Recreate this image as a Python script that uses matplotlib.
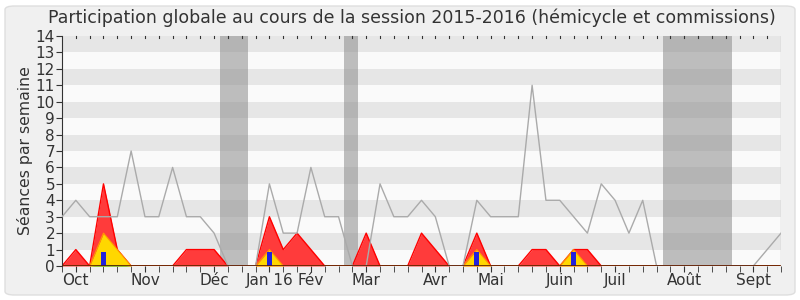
import matplotlib
matplotlib.use('Agg')
import numpy as np
import matplotlib.pyplot as plt
from matplotlib.patches import FancyBboxPatch

# semaines de la session (0 = fin septembre 2015)
weeks = np.arange(53)

# presence mediane des deputes (ligne grise)
median = [3, 4, 3, 3, 3, 7, 3, 3, 6, 3, 3, 2, 0, 0, 0, 5, 2, 2, 6, 3,
          3, 0, 0, 5, 3, 3, 4, 3, 0, 0, 4, 3, 3, 3, 11, 4, 4, 3, 2, 5,
          4, 2, 4, 0, 0, 0, 0, 0, 0, 0, 0, 1, 2]
# presences (rouge)
presences = [0, 1, 0, 5, 1, 0, 0, 0, 0, 1, 1, 1, 0, 0, 0, 3, 1, 2, 1, 0,
             0, 0, 2, 0, 0, 0, 2, 1, 0, 0, 2, 0, 0, 0, 1, 1, 0, 1, 1, 0,
             0, 0, 0, 0, 0, 0, 0, 0, 0, 0, 0, 0, 0]
# interventions longues (jaune)
interventions = [0, 0, 0, 2, 1, 0, 0, 0, 0, 0, 0, 0, 0, 0, 0, 1, 0, 0, 0, 0,
                 0, 0, 0, 0, 0, 0, 0, 0, 0, 0, 1, 0, 0, 0, 0, 0, 0, 1, 0, 0,
                 0, 0, 0, 0, 0, 0, 0, 0, 0, 0, 0, 0, 0]
# interventions courtes (vert)
courtes = [0, 0, 0, 0.1, 0.08, 0, 0, 0, 0, 0, 0, 0, 0, 0, 0, 0, 0, 0, 0, 0,
           0, 0, 0, 0, 0, 0, 0, 0, 0, 0, 0, 0, 0, 0, 0, 0, 0, 0, 0, 0,
           0, 0, 0, 0, 0, 0, 0, 0, 0, 0, 0, 0, 0]
# questions orales (barres bleues)
question_weeks = [3, 15, 30, 37]
question_vals = [0.85, 0.85, 0.85, 0.85]

# vacances parlementaires
vacances = [(11.43, 13.43), (20.43, 21.43), (43.43, 48.43)]

month_pos = [1, 6, 11, 15, 18, 22, 27, 31, 36, 40, 45, 50]
month_labels = ['Oct', 'Nov', 'Déc', 'Jan 16', 'Fév', 'Mar', 'Avr', 'Mai',
                'Juin', 'Juil', 'Août', 'Sept']

fig = plt.figure(figsize=(8, 3), dpi=100, facecolor='white')
fig.patches.append(FancyBboxPatch((5/800, 5/300), 790/800, 289/300,
                                  boxstyle='round,pad=0,rounding_size=0.012',
                                  transform=fig.transFigure, facecolor='#f0f0f0',
                                  edgecolor='#dedede', linewidth=1, zorder=-10))
ax = fig.add_axes([62/800, 34/300, 719/800, 230/300])
ax.set_facecolor('#fafafa')

for i in range(14):
    if i % 2 == 1:
        ax.axhspan(i, i + 1, color='#e6e6e6', lw=0, zorder=0)
for a, b in vacances:
    ax.axvspan(a, b, color='#8c8c8c', alpha=0.55, lw=0, zorder=1)

ax.fill_between(weeks, presences, color='#ff3b3b', lw=0, zorder=2)
ax.plot(weeks, presences, color='#ff0000', lw=1, zorder=2)
ax.fill_between(weeks, interventions, color='#ffd700', lw=0, zorder=3)
ax.plot(weeks, interventions, color='#ff9900', lw=0.8, zorder=3)
ax.fill_between(weeks, courtes, color='#33cc33', lw=0, zorder=4)
ax.bar(question_weeks, question_vals, width=0.36, color='#2222dd', zorder=5)
ax.plot(weeks, median, color='#aaaaaa', lw=1, zorder=6)
ax.axhline(0, color='#5a1a00', lw=1.2, zorder=7)

ax.set_xlim(0, 52)
ax.set_ylim(0, 14)
ax.set_yticks(range(15))
ax.tick_params(axis='y', labelsize=11, length=4, colors='#333333', pad=1)
ax.set_xticks(weeks, minor=True)
ax.set_xticks(month_pos)
ax.set_xticklabels(month_labels)
ax.tick_params(axis='x', which='both', length=4, colors='#333333',
               labelsize=11, pad=1)
ax.set_ylabel('Séances par semaine', fontsize=11.3, color='#333333', labelpad=2)

for s in ['top', 'right']:
    ax.spines[s].set_visible(False)
ax.spines['left'].set_color('#333333')
ax.spines['bottom'].set_visible(False)
ax.axvline(52, color='#cccccc', lw=1, zorder=8)

# petits points en haut
for w in weeks[1:-1]:
    ax.plot([w, w], [14, 13.9], color='#333333', lw=0.8, clip_on=False, zorder=9)

fig.text(412/800, 1 - 18/300, 'Participation globale au cours de la session 2015-2016 (hémicycle et commissions)',
         ha='center', va='center', fontsize=12.5, color='#333333')

plt.savefig('out.png', dpi=100, facecolor=fig.get_facecolor())
